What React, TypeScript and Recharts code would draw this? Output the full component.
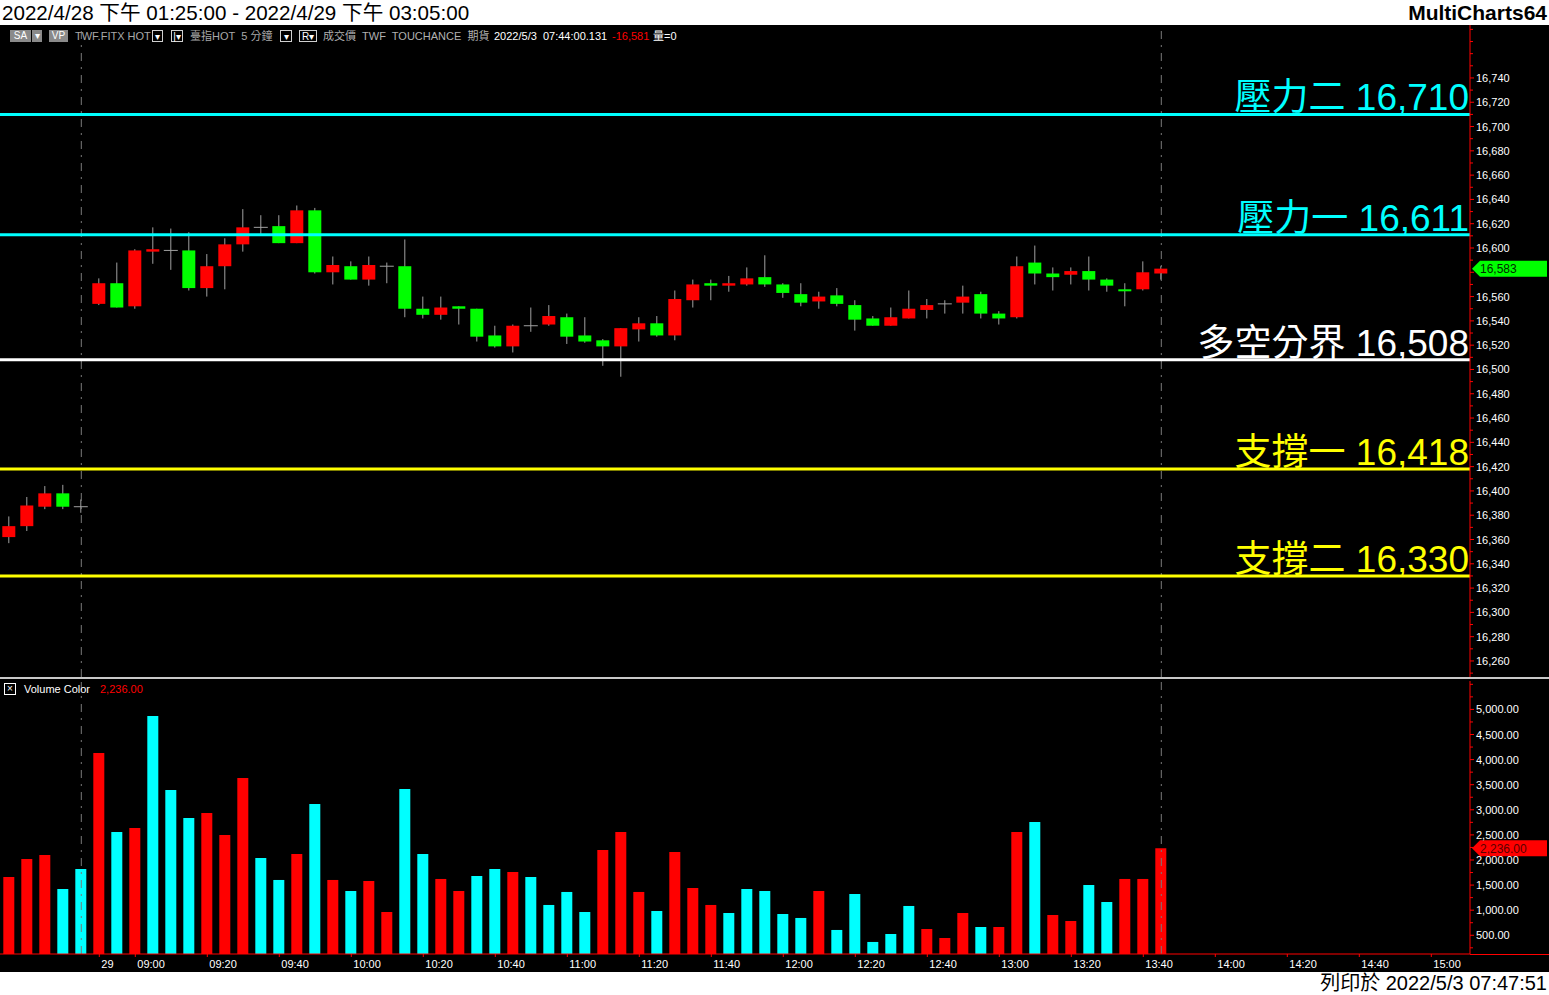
import React from 'react';
import { ComposedChart, Bar, XAxis, YAxis, ReferenceLine, Cell } from 'recharts';

// ---------- DATA ----------
// 5-minute bars: 5 night-session bars, then 08:50 .. 13:45 day session
const opens = [
  16362, 16371, 16387, 16398, 16387,
  16554, 16571, 16552, 16597, 16598, 16598, 16567, 16585, 16603, 16617,
  16618, 16604, 16631, 16580, 16585, 16574, 16585, 16585, 16550, 16545,
  16552, 16550, 16528, 16519, 16536, 16537, 16543, 16528, 16524, 16519,
  16533, 16538, 16528, 16557, 16571, 16569, 16570, 16576, 16570, 16562,
  16556, 16561, 16553, 16542, 16536, 16542, 16549, 16554, 16555, 16562,
  16546, 16543, 16588, 16579, 16578, 16581, 16574, 16566, 16566, 16579,
];
const highs = [
  16379, 16395, 16404, 16405, 16393,
  16575, 16588, 16599, 16617, 16616, 16613, 16595, 16608, 16632, 16627,
  16627, 16635, 16633, 16593, 16589, 16593, 16588, 16607, 16560, 16560,
  16552, 16550, 16536, 16537, 16551, 16553, 16546, 16543, 16525, 16534,
  16543, 16544, 16565, 16574, 16574, 16577, 16584, 16594, 16571, 16571,
  16564, 16567, 16557, 16544, 16551, 16565, 16558, 16557, 16569, 16564,
  16548, 16593, 16602, 16584, 16584, 16593, 16575, 16571, 16589, 16585,
];
const lows = [
  16357, 16367, 16385, 16385, 16382,
  16553, 16551, 16550, 16587, 16582, 16565, 16560, 16566, 16597, 16611,
  16604, 16604, 16579, 16570, 16574, 16569, 16571, 16543, 16542, 16541,
  16537, 16523, 16518, 16514, 16531, 16536, 16521, 16522, 16503, 16494,
  16523, 16527, 16524, 16551, 16557, 16564, 16569, 16568, 16559, 16552,
  16550, 16552, 16532, 16536, 16536, 16542, 16542, 16546, 16546, 16542,
  16537, 16542, 16570, 16565, 16570, 16565, 16564, 16552, 16565, 16574,
];
const closes = [
  16371, 16388, 16398, 16387, 16387,
  16571, 16551, 16598, 16599, 16598, 16567, 16585, 16603, 16617, 16617,
  16604, 16631, 16580, 16586, 16574, 16586, 16585, 16550, 16545, 16551,
  16550, 16527, 16519, 16536, 16536, 16544, 16527, 16523, 16519, 16534,
  16538, 16528, 16558, 16570, 16569, 16571, 16575, 16570, 16563, 16555,
  16560, 16554, 16541, 16536, 16543, 16550, 16553, 16554, 16560, 16546,
  16542, 16585, 16579, 16576, 16581, 16574, 16569, 16565, 16580, 16583,
];
const volumes = [
  1661, 2020, 2100, 1422, 1821,
  4131, 2558, 2637, 4869, 3394, 2837, 2936, 2498, 3633, 2040,
  1602, 2120, 3116, 1602, 1382, 1582, 964, 3414, 2120, 1622,
  1382, 1681, 1821, 1761, 1661, 1104, 1363, 964, 2199, 2558,
  1363, 984, 2159, 1442, 1104, 944, 1422, 1382, 924, 845,
  1382, 606, 1323, 367, 526, 1084, 625, 446, 944, 665,
  665, 2558, 2757, 904, 785, 1502, 1163, 1622, 1622, 2236,
];
// r = red (up volume), c = cyan (down volume)
const volColors = [
  'r', 'r', 'r', 'c', 'c',
  'r', 'c', 'r', 'c', 'c', 'c', 'r', 'r', 'r', 'c',
  'c', 'r', 'c', 'r', 'c', 'r', 'r', 'c', 'c', 'r',
  'r', 'c', 'c', 'r', 'c', 'c', 'c', 'c', 'r', 'r',
  'r', 'c', 'r', 'r', 'r', 'c', 'c', 'c', 'c', 'c',
  'r', 'c', 'c', 'c', 'c', 'c', 'r', 'r', 'r', 'c',
  'r', 'r', 'c', 'r', 'r', 'c', 'c', 'r', 'r', 'r',
];

const levelValues = [16710, 16611, 16508, 16418, 16330];
const levelNames = ['壓力二', '壓力一', '多空分界', '支撐一', '支撐二'];
const levelColors = ['#00ffff', '#00ffff', '#ffffff', '#ffff00', '#ffff00'];

const timeTickIdx = [5, 7, 11, 15, 19, 23, 27, 31, 35, 39, 43, 47, 51, 55, 59, 63, 67, 71, 75, 79];
const timeTickLabels = ['29', '09:00', '09:20', '09:40', '10:00', '10:20', '10:40', '11:00', '11:20', '11:40',
  '12:00', '12:20', '12:40', '13:00', '13:20', '13:40', '14:00', '14:20', '14:40', '15:00'];

const sessionBreakIdx = [4, 64];
const lastPrice = 16583;
const lastVolume = 2236;

const priceTicks: number[] = [];
for (let v = 16250; v <= 16780; v += 10) priceTicks.push(v);
const volTicks: number[] = [];
for (let v = 250; v <= 5500; v += 250) volTicks.push(v);

// ---------- DERIVED ----------
const data = opens.map((o, i) => ({
  idx: i,
  open: o,
  high: highs[i],
  low: lows[i],
  close: closes[i],
  vol: volumes[i],
  vc: volColors[i],
}));

const X_DOMAIN: [number, number] = [-0.517, 81.15];
const PRICE_DOMAIN: [number, number] = [16246.8, 16783.6];
const VOL_DOMAIN: [number, number] = [127, 5566];

const FONT = '"Liberation Sans", Arial, "Noto Sans CJK TC", sans-serif';

// ---------- SHAPES ----------
const Candle = (props: any) => {
  const { x, y, width, height, payload } = props;
  if (!payload) return null;
  const { open, close, high, low } = payload;
  const cx = x + width / 2;
  const range = high - low;
  const k = range > 0 ? height / range : 0;
  const yOf = (v: number) => y + (high - v) * k;
  const wick = '#a0a0a0';
  const yo = yOf(open);
  const yc = yOf(close);
  if (open === close) {
    return (
      <g>
        <line x1={cx} x2={cx} y1={y} y2={y + height} stroke={wick} strokeWidth={1} />
        <line x1={cx - 7} x2={cx + 7} y1={yo} y2={yo} stroke={wick} strokeWidth={1} />
      </g>
    );
  }
  const up = close > open;
  const top = Math.min(yo, yc);
  const h = Math.max(Math.abs(yo - yc), 2);
  return (
    <g>
      <line x1={cx} x2={cx} y1={y} y2={y + height} stroke={wick} strokeWidth={1} />
      <rect x={cx - 6.5} y={top} width={13} height={h} fill={up ? '#ff0000' : '#00ff00'} />
    </g>
  );
};

const PriceTick = (props: any) => {
  const { x, y, payload } = props;
  const v = payload.value;
  const major = v % 20 === 0 && v >= 16260 && v <= 16740;
  // the label under the last-price marker is hidden by it, as in the reference
  const hidden = Math.abs(v - lastPrice) < 8;
  return (
    <g>
      <line x1={x} x2={x + (major ? 4 : 3)} y1={y} y2={y} stroke="#ff0000" />
      {major && !hidden && (
        <text x={x + 6} y={y + 4} fill="#ffffff" fontSize={11} fontFamily={FONT}>
          {v.toLocaleString('en-US')}
        </text>
      )}
    </g>
  );
};

const VolTick = (props: any) => {
  const { x, y, payload } = props;
  const v = payload.value;
  const major = v % 500 === 0 && v >= 500 && v <= 5000;
  return (
    <g>
      <line x1={x} x2={x + (major ? 4 : 3)} y1={y} y2={y} stroke="#ff0000" />
      {major && (
        <text x={x + 6} y={y + 4} fill="#ffffff" fontSize={11} fontFamily={FONT}>
          {v.toLocaleString('en-US', { minimumFractionDigits: 2, maximumFractionDigits: 2 })}
        </text>
      )}
    </g>
  );
};

const TimeTick = (props: any) => {
  const { x, y, payload } = props;
  const i = timeTickIdx.indexOf(payload.value);
  const label = i >= 0 ? timeTickLabels[i] : '';
  return (
    <g>
      <line x1={x} x2={x} y1={y} y2={y + 3} stroke="#ff0000" />
      <text x={x + 2} y={y + 14} fill="#ffffff" fontSize={11} fontFamily={FONT}>
        {label}
      </text>
    </g>
  );
};

const LevelLabel = (props: any) => {
  const { viewBox, text, tint } = props;
  if (!viewBox) return null;
  return (
    <text
      x={viewBox.x + viewBox.width - 1}
      y={viewBox.y - 4}
      textAnchor="end"
      style={{ fill: tint }}
      fontSize={37}
      fontFamily={FONT}
    >
      {text}
    </text>
  );
};

const AxisMarker = (props: any) => {
  const { viewBox, text, markColor, inkColor } = props;
  if (!viewBox) return null;
  const x0 = viewBox.x + viewBox.width + 2;
  const y0 = viewBox.y;
  const pts = `${x0},${y0} ${x0 + 8},${y0 - 8} ${x0 + 75},${y0 - 8} ${x0 + 75},${y0 + 8} ${x0 + 8},${y0 + 8}`;
  return (
    <g>
      <polygon points={pts} style={{ fill: markColor }} />
      <text x={x0 + 8} y={y0 + 4.5} fontSize={12} style={{ fill: inkColor }} fontFamily={FONT}>
        {text}
      </text>
    </g>
  );
};

const Box = ({ left, w, children, filled }: any) => (
  <div
    style={{
      position: 'absolute', left, top: 30, width: w, height: 12,
      border: filled ? 'none' : '1px solid #d0d0d0',
      background: filled ? '#8a8a8a' : '#000',
      color: '#fff', fontSize: 10, lineHeight: '12px', textAlign: 'center', boxSizing: 'border-box',
    }}
  >
    {children}
  </div>
);

const Txt = ({ left, color, children }: any) => (
  <div style={{ position: 'absolute', left, top: 29, fontSize: 11, lineHeight: '14px', color, whiteSpace: 'nowrap' }}>
    {children}
  </div>
);

export default function App() {
  return (
    <div
      style={{
        position: 'absolute', left: 0, top: 0, width: 1549, height: 995, background: '#000',
        overflow: 'hidden', fontFamily: FONT,
      }}
    >
      {/* title bar */}
      <div style={{ position: 'absolute', left: 0, top: 0, width: 1549, height: 25, background: '#fff' }}>
        <div style={{ position: 'absolute', left: 2, top: 0, fontSize: 20.6, lineHeight: '25px', color: '#000', whiteSpace: 'nowrap' }}>
          2022/4/28 下午 01:25:00 - 2022/4/29 下午 03:05:00
        </div>
        <div style={{ position: 'absolute', right: 2, top: 0, fontSize: 21, lineHeight: '25px', color: '#000', fontWeight: 'bold', whiteSpace: 'nowrap' }}>
          MultiCharts64
        </div>
      </div>

      {/* main price chart */}
      <div style={{ position: 'absolute', left: 0, top: 25 }}>
        <ComposedChart width={1549} height={652} data={data} margin={{ top: 0, right: 0, bottom: 0, left: 0 }}>
          <XAxis type="number" dataKey="idx" domain={X_DOMAIN} hide allowDataOverflow />
          <YAxis
            orientation="right"
            width={79}
            domain={PRICE_DOMAIN}
            allowDataOverflow
            ticks={priceTicks}
            interval={0}
            tickSize={0}
            tickMargin={0}
            tick={<PriceTick />}
            axisLine={{ stroke: '#ff0000' }}
            tickLine={false}
          />
          {sessionBreakIdx.map((v) => (
            <ReferenceLine key={'s' + v} x={v} stroke="#7a7a7a" strokeDasharray="8 6 2 6" />
          ))}
          {levelValues.map((v, i) => (
            <ReferenceLine
              key={'l' + v}
              y={v}
              stroke={levelColors[i]}
              strokeWidth={3}
              label={<LevelLabel text={`${levelNames[i]} ${v.toLocaleString('en-US')}`} tint={levelColors[i]} />}
            />
          ))}
          <Bar
            dataKey={(d: any) => [d.low, d.high]}
            barSize={13}
            shape={<Candle />}
            isAnimationActive={false}
          />
          <ReferenceLine
            y={lastPrice}
            stroke="none"
            label={<AxisMarker text={lastPrice.toLocaleString('en-US')} markColor="#00ff00" inkColor="#002a00" />}
          />
        </ComposedChart>
      </div>

      {/* status line */}
      <Box left={10} w={21} filled>SA</Box>
      <Box left={32} w={10} filled>▾</Box>
      <Box left={49} w={19} filled>VP</Box>
      <Txt left={75} color="#a8a8a8">TWF.FITX HOT</Txt>
      <Box left={152} w={11}>▾</Box>
      <Box left={171} w={12}>|▾</Box>
      <Txt left={190} color="#a8a8a8">臺指HOT&nbsp; 5 分鐘</Txt>
      <Box left={280} w={12}>▾</Box>
      <Box left={299} w={18}>R▾</Box>
      <Txt left={323} color="#b0b0b0">成交價&nbsp; TWF&nbsp; TOUCHANCE&nbsp; 期貨</Txt>
      <Txt left={494} color="#ffffff">2022/5/3&nbsp; 07:44:00.131</Txt>
      <Txt left={612} color="#ff0000">-16,581</Txt>
      <Txt left={653} color="#ffffff">量=0</Txt>

      {/* separator */}
      <div style={{ position: 'absolute', left: 0, top: 677, width: 1549, height: 2, background: '#c8c8c8' }} />

      {/* volume chart */}
      <div style={{ position: 'absolute', left: 0, top: 679 }}>
        <ComposedChart width={1549} height={292} data={data} margin={{ top: 2, right: 0, bottom: 0, left: 0 }}>
          <XAxis
            type="number"
            dataKey="idx"
            domain={X_DOMAIN}
            allowDataOverflow
            ticks={timeTickIdx}
            interval={0}
            height={17}
            tickSize={0}
            tickMargin={0}
            tick={<TimeTick />}
            axisLine={{ stroke: '#ff0000' }}
            tickLine={false}
          />
          <YAxis
            orientation="right"
            width={79}
            domain={VOL_DOMAIN}
            allowDataOverflow
            ticks={volTicks}
            interval={0}
            tickSize={0}
            tickMargin={0}
            tick={<VolTick />}
            axisLine={{ stroke: '#ff0000' }}
            tickLine={false}
          />
          {sessionBreakIdx.map((v) => (
            <ReferenceLine key={'sv' + v} x={v} stroke="#7a7a7a" strokeDasharray="8 6 2 6" />
          ))}
          <Bar dataKey="vol" barSize={11} isAnimationActive={false}>
            {data.map((d) => (
              <Cell key={d.idx} fill={d.vc === 'r' ? '#ff0000' : '#00ffff'} />
            ))}
          </Bar>
          <ReferenceLine
            y={lastVolume}
            stroke="none"
            label={<AxisMarker text={lastVolume.toLocaleString('en-US', { minimumFractionDigits: 2 })} markColor="#ff0000" inkColor="#5a0000" />}
          />
        </ComposedChart>
      </div>

      {/* extension of the time axis line to the right edge */}
      <div style={{ position: 'absolute', left: 1470, top: 954, width: 79, height: 1, background: '#ff0000' }} />

      {/* volume legend */}
      <div style={{ position: 'absolute', left: 4, top: 683, width: 12, height: 12, border: '1px solid #fff', boxSizing: 'border-box', color: '#fff', fontSize: 10, lineHeight: '10px', textAlign: 'center' }}>×</div>
      <div style={{ position: 'absolute', left: 24, top: 682, fontSize: 11, lineHeight: '14px', color: '#fff', whiteSpace: 'nowrap' }}>Volume Color</div>
      <div style={{ position: 'absolute', left: 100, top: 682, fontSize: 11, lineHeight: '14px', color: '#ff0000', whiteSpace: 'nowrap' }}>2,236.00</div>

      {/* bottom strip */}
      <div style={{ position: 'absolute', left: 0, top: 972, width: 1549, height: 23, background: '#fff' }}>
        <div style={{ position: 'absolute', right: 2, top: 0, fontSize: 20, lineHeight: '23px', color: '#000', whiteSpace: 'nowrap' }}>
          列印於 2022/5/3 07:47:51
        </div>
      </div>
    </div>
  );
}
